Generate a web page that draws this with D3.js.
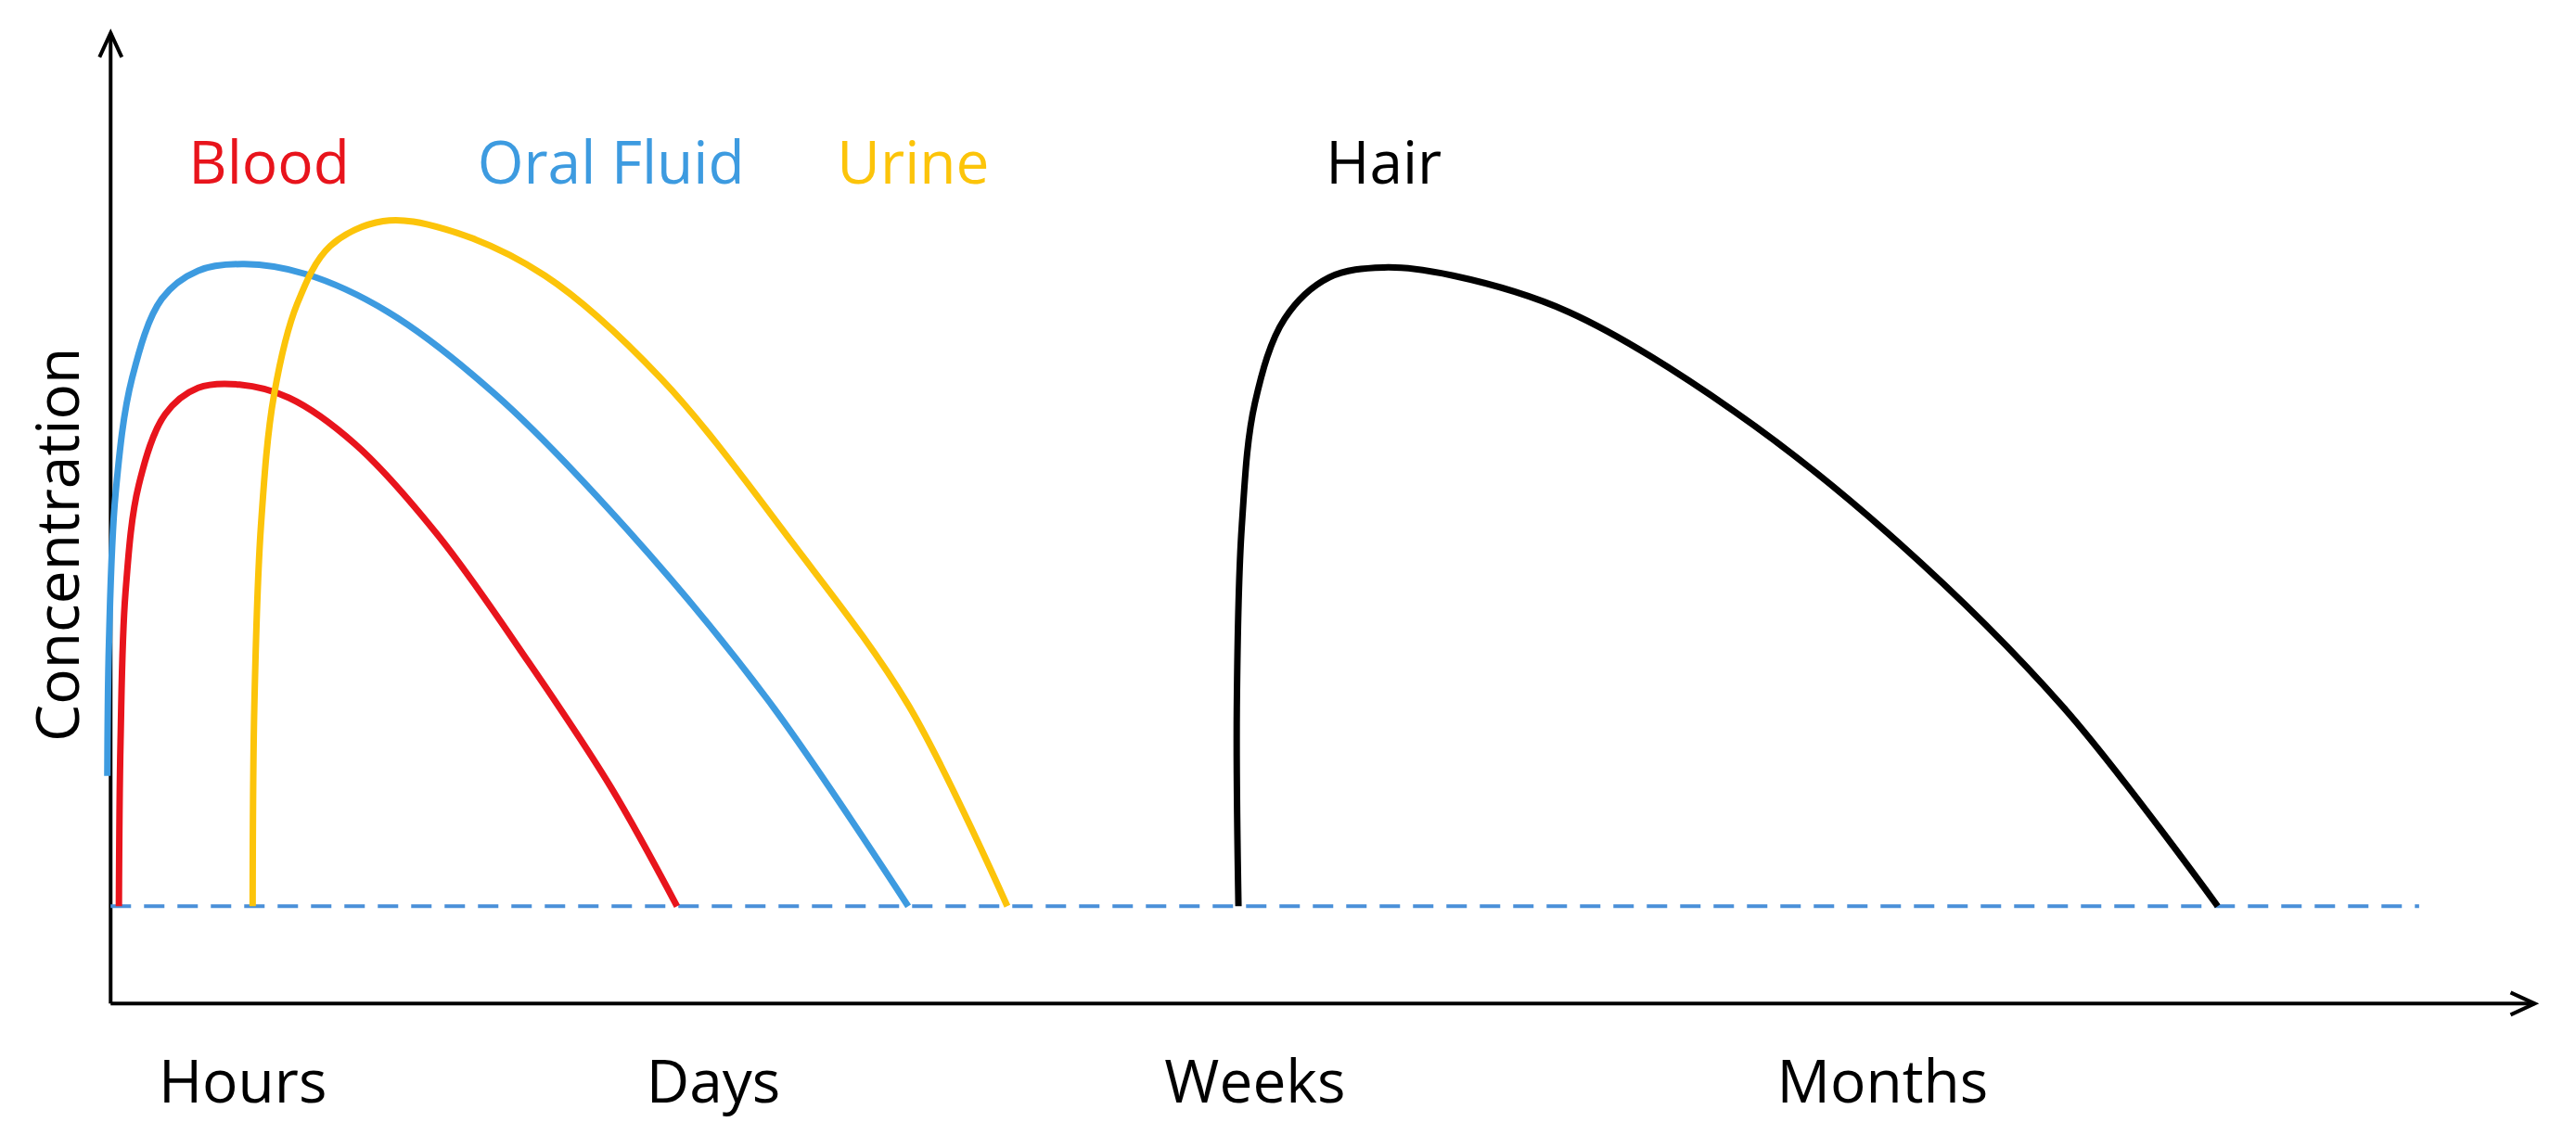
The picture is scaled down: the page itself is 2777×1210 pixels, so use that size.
<!DOCTYPE html>
<html>
<head>
<meta charset="utf-8">
<script src="https://cdn.jsdelivr.net/npm/d3@7"></script>
<style>
  body { margin: 0; background: #fff; }
  text { font-family: "Open Sans", Lato, sans-serif; }
</style>
</head>
<body>
<svg id="chart" width="2777" height="1210"></svg>
<script>
// time (arbitrary units) vs concentration (arbitrary units, 0 = detection limit)
const blood = [[72,0],[73,100],[76,190],[84,255],[100,298],[120,314],[145,316],[175,308],[215,280],[265,225],[320,148],[370,72],[410,0]];
const oralFluid = [[65,79],[66,160],[70,250],[80,320],[98,368],[120,385],[148,389],[185,383],[235,360],[300,310],[380,228],[465,125],[550,0]];
const urine = [[153,0],[154,120],[158,230],[166,310],[180,365],[200,400],[232,415],[270,410],[330,382],[400,320],[480,220],[550,122],[610,0]];
const hair = [[750,0],[749,120],[752,230],[760,305],[778,356],[805,381],[838,387],[880,382],[950,360],[1050,300],[1150,220],[1250,120],[1343,0]];

const seriesNames = ['Blood', 'Oral Fluid', 'Urine', 'Hair'];
const seriesColors = ['#e8141c', '#3d9be0', '#fcc40a', '#000000'];
const labelX = [163, 370, 553, 838];
const timeLabels = ['Hours', 'Days', 'Weeks', 'Months'];
const timeLabelX = [147, 432, 760, 1140];

const s = 2777 / 1560;
const svg = d3.select('#chart');

const x = d3.scaleLinear().domain([0, 1560]).range([0, 2777]);
const y = d3.scaleLinear().domain([-59, 529]).range([608 * s, 20 * s]);

const x0 = x(67), y0 = y(-59);

// axes with open arrowheads
svg.append('line')
    .attr('x1', x0).attr('y1', y0).attr('x2', x0).attr('y2', y(529))
    .attr('stroke', '#000').attr('stroke-width', 4);
svg.append('path')
    .attr('d', `M${x0 - 12},${y(529) + 26} L${x0},${y(529)} L${x0 + 12},${y(529) + 26}`)
    .attr('fill', 'none').attr('stroke', '#000').attr('stroke-width', 4);
svg.append('line')
    .attr('x1', x0).attr('y1', y0).attr('x2', x(1535)).attr('y2', y0)
    .attr('stroke', '#000').attr('stroke-width', 4);
svg.append('path')
    .attr('d', `M${x(1535) - 26},${y0 - 12} L${x(1535)},${y0} L${x(1535) - 26},${y0 + 12}`)
    .attr('fill', 'none').attr('stroke', '#000').attr('stroke-width', 4);

// detection limit
svg.append('line')
    .attr('x1', x(67)).attr('x2', x(1465)).attr('y1', y(0)).attr('y2', y(0))
    .attr('stroke', '#4a90d9').attr('stroke-width', 4)
    .attr('stroke-dasharray', '22,14');

const line = d3.line().x(d => x(d[0])).y(d => y(d[1])).curve(d3.curveCatmullRom.alpha(0.5));

[blood, oralFluid, urine, hair].forEach((d, i) => {
    svg.append('path')
        .attr('d', line(d))
        .attr('fill', 'none')
        .attr('stroke', seriesColors[i])
        .attr('stroke-width', 7);
    svg.append('text')
        .attr('x', x(labelX[i])).attr('y', 111 * s)
        .attr('text-anchor', 'middle')
        .attr('font-size', 64)
        .attr('fill', seriesColors[i])
        .text(seriesNames[i]);
});

timeLabels.forEach((t, i) => {
    svg.append('text')
        .attr('x', x(timeLabelX[i])).attr('y', 668 * s)
        .attr('text-anchor', 'middle')
        .attr('font-size', 64)
        .text(t);
});

svg.append('text')
    .attr('transform', `translate(${48 * s},${330 * s}) rotate(-90)`)
    .attr('text-anchor', 'middle')
    .attr('font-size', 64)
    .text('Concentration');
</script>
</body>
</html>
